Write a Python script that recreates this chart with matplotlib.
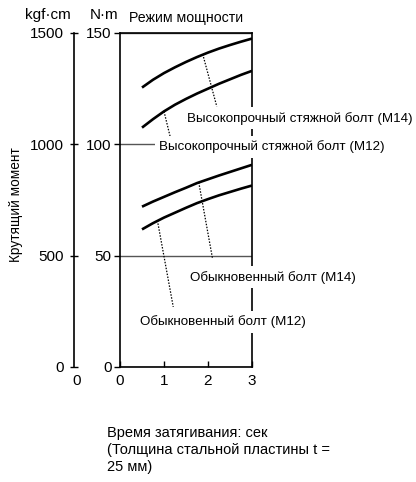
import matplotlib
matplotlib.use('Agg')
import matplotlib.pyplot as plt

plt.rcParams['font.family'] = ['Liberation Sans', 'DejaVu Sans']

# tightening time, s
t = [0.5, 0.75, 1.0, 1.25, 1.5, 1.75, 2.0, 2.25, 2.5, 2.75, 3.0]

# torque, N·m
high_m14 = [125.5, 129, 132, 134.6, 137, 139.2, 141.2, 143, 144.6, 146.1, 147.5]
high_m12 = [107.5, 111.3, 114.8, 117.8, 120.4, 122.8, 125, 127.2, 129.2, 131.2, 133]
norm_m14 = [72, 74.3, 76.4, 78.5, 80.5, 82.6, 84.3, 86, 87.6, 89.2, 90.8]
norm_m12 = [61.8, 64.6, 67.1, 69.3, 71.5, 73.6, 75.4, 77.1, 78.6, 80.1, 81.5]

labels = ['Высокопрочный стяжной болт (M14)',
          'Высокопрочный стяжной болт (M12)',
          'Обыкновенный болт (M14)',
          'Обыкновенный болт (M12)']
# leader lines: (x0, y0) on curve -> (x1, y1)
leaders = [((1.88, 140.5), (2.2, 117)),
           ((1.0, 114.8), (1.17, 101)),
           ((1.79, 82.9), (2.1, 49)),
           ((0.85, 65.8), (1.21, 27))]
label_pos = [(1.53, 111.8), (0.89, 98.8), (1.58, 40.4), (0.46, 20.2)]

fig = plt.figure(figsize=(4.16, 4.82), dpi=100)
ax = fig.add_axes([120/416, 1 - 367/482, 132/416, 334/482])

for y in (high_m14, high_m12, norm_m14, norm_m12):
    ax.plot(t, y, color='black', lw=1.9, solid_capstyle='butt')

for (p0, p1) in leaders:
    ax.plot([p0[0], p1[0]], [p0[1], p1[1]], color='black', lw=0.9, ls=(0, (1.2, 1.2)))

for txt, (x, y) in zip(labels, label_pos):
    ax.text(x, y, txt, fontsize=9.6, ha='left', va='center', zorder=5,
            bbox=dict(facecolor='white', edgecolor='none', pad=3))

ax.set_xlim(0, 3)
ax.set_ylim(0, 150)
ax.set_xticks([0, 1, 2, 3])
ax.set_yticks([0, 50, 100, 150])
ax.tick_params(axis='x', direction='in', length=4, width=1, pad=5, labelsize=11)
ax.tick_params(axis='y', direction='out', length=4, width=1, pad=2, labelsize=11)
ax.grid(axis='y', color='#555555', lw=1)
for s in ax.spines.values():
    s.set_linewidth(1.2)

sec = ax.secondary_yaxis(-0.35, functions=(lambda v: v * 10, lambda v: v / 10))
sec.set_yticks([0, 500, 1000, 1500])
sec.tick_params(direction='inout', length=6, width=1, pad=4, labelsize=11)
sec.spines['left'].set_linewidth(1.2)

ax.annotate('0', xy=(-0.33, 0), xycoords='axes fraction', xytext=(0, -5),
            textcoords='offset points', ha='center', va='top', fontsize=11)

ax.set_title('Режим мощности', fontsize=10.2, pad=8)
ax.annotate('N·m', xy=(0, 1), xycoords='axes fraction', xytext=(-1, 8),
            textcoords='offset points', ha='right', va='bottom', fontsize=11)
ax.annotate('kgf·cm', xy=(-0.35, 1), xycoords='axes fraction', xytext=(-2, 8),
            textcoords='offset points', ha='right', va='bottom', fontsize=11)

fig.text(16/416, 1 - 205/482, 'Крутящий момент', rotation=90, ha='center', va='center',
         fontsize=9.8)
fig.text(107/416, 1 - 426/482,
         'Время затягивания: сек\n(Толщина стальной пластины t =\n25 мм)',
         ha='left', va='top', fontsize=10.5, linespacing=1.25)

fig.savefig('out.png', dpi=100)
